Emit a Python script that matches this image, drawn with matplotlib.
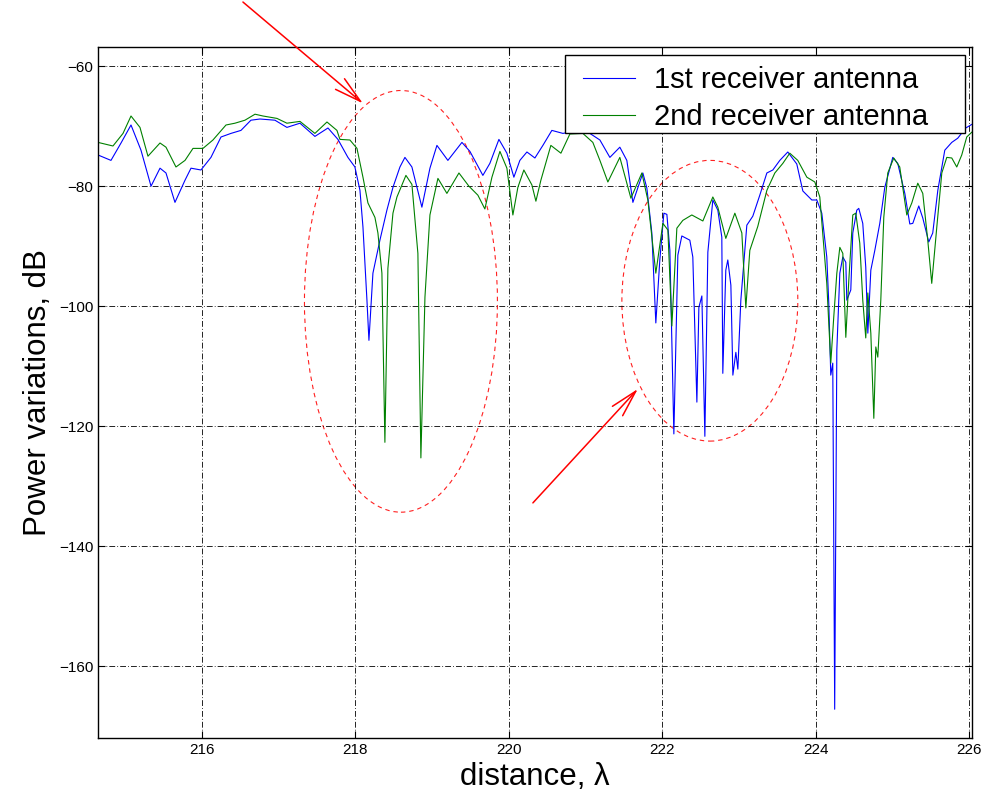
import matplotlib
matplotlib.use('Agg')
import matplotlib.pyplot as plt
from matplotlib.patches import Ellipse, Rectangle

plt.rcParams['font.family'] = ['Liberation Sans', 'DejaVu Sans']

# 1st receiver antenna (distance in wavelengths, power in dB)
dist_1 = [214.645, 214.814, 214.945, 215.075, 215.205, 215.336, 215.453, 215.531,
          215.648, 215.779, 215.857, 215.987, 216.117, 216.248, 216.378, 216.508,
          216.638, 216.756, 216.951, 217.107, 217.277, 217.472, 217.642, 217.772,
          217.902, 217.993, 218.059, 218.098, 218.150, 218.176, 218.228, 218.319,
          218.410, 218.489, 218.580, 218.645, 218.736, 218.866, 218.971, 219.062,
          219.205, 219.388, 219.492, 219.661, 219.752, 219.870, 219.974, 220.065,
          220.143, 220.235, 220.339, 220.443, 220.560, 220.704, 220.795, 220.925,
          221.055, 221.186, 221.316, 221.446, 221.537, 221.616, 221.746, 221.798,
          221.863, 221.915, 221.967, 222.020, 222.059, 222.098, 222.150, 222.202,
          222.254, 222.358, 222.397, 222.450, 222.476, 222.515, 222.554, 222.593,
          222.658, 222.723, 222.775, 222.788, 222.827, 222.853, 222.893, 222.919,
          222.958, 222.984, 223.023, 223.101, 223.179, 223.270, 223.362, 223.440,
          223.531, 223.635, 223.752, 223.831, 223.948, 224.013, 224.078, 224.143,
          224.169, 224.195, 224.221, 224.246, 224.274, 224.313, 224.352, 224.391,
          224.404, 224.456, 224.482, 224.534, 224.560, 224.612, 224.651, 224.678,
          224.717, 224.769, 224.834, 224.899, 225.003, 225.068, 225.160, 225.225,
          225.264, 225.342, 225.394, 225.472, 225.524, 225.590, 225.681, 225.772,
          225.850, 225.954, 226.033]
power_1 = [-74.8, -75.7, -72.8, -69.8, -74.0, -80.0, -77.0, -77.8,
           -82.7, -79.0, -77.0, -77.3, -75.2, -71.8, -71.2, -70.7,
           -69.0, -68.8, -69.0, -70.2, -69.5, -71.7, -70.3, -72.2,
           -75.2, -76.8, -80.7, -86.8, -99.0, -105.7, -94.5, -89.0,
           -84.0, -80.2, -76.8, -75.2, -76.8, -83.5, -77.0, -73.2,
           -75.7, -72.7, -74.2, -78.2, -76.2, -72.2, -74.5, -78.5,
           -75.7, -74.3, -75.3, -73.2, -70.7, -71.2, -71.0, -70.7,
           -71.2, -72.3, -75.2, -73.5, -75.7, -82.7, -77.8, -80.3,
           -87.8, -102.8, -92.3, -84.5, -84.7, -90.7, -121.3, -91.5,
           -88.3, -89.0, -91.8, -116.0, -100.2, -98.3, -121.7, -91.0,
           -82.3, -84.0, -88.5, -111.2, -94.0, -92.3, -96.5, -111.5,
           -107.7, -110.5, -99.0, -86.5, -85.0, -81.5, -77.8, -77.3,
           -75.7, -74.3, -76.3, -80.8, -82.3, -82.3, -84.5, -91.8,
           -99.5, -111.5, -109.5, -167.2, -107.3, -94.5, -91.8, -92.7,
           -99.0, -97.3, -87.8, -84.0, -83.7, -86.2, -93.5, -104.5,
           -94.0, -90.7, -86.2, -80.2, -75.2, -76.2, -81.2, -86.3,
           -86.2, -83.3, -85.3, -89.3, -87.8, -80.7, -74.0, -72.7,
           -72.0, -70.3, -69.7]

# 2nd receiver antenna
dist_2 = [214.645, 214.840, 214.971, 215.075, 215.192, 215.296, 215.453, 215.531,
          215.661, 215.779, 215.883, 216.013, 216.143, 216.313, 216.430, 216.560,
          216.691, 216.795, 216.977, 217.107, 217.277, 217.472, 217.629, 217.759,
          217.798, 217.928, 218.020, 218.098, 218.163, 218.254, 218.293, 218.345,
          218.384, 218.423, 218.489, 218.541, 218.658, 218.736, 218.814, 218.853,
          218.906, 218.971, 219.075, 219.192, 219.349, 219.479, 219.596, 219.687,
          219.779, 219.883, 219.974, 220.052, 220.117, 220.195, 220.300, 220.352,
          220.417, 220.547, 220.678, 220.795, 220.964, 221.094, 221.186, 221.290,
          221.446, 221.590, 221.733, 221.811, 221.915, 222.007, 222.072, 222.124,
          222.189, 222.267, 222.384, 222.528, 222.658, 222.723, 222.827, 222.945,
          223.036, 223.088, 223.140, 223.244, 223.362, 223.466, 223.570, 223.661,
          223.765, 223.883, 223.987, 224.052, 224.143, 224.195, 224.234, 224.274,
          224.313, 224.352, 224.391, 224.430, 224.482, 224.521, 224.573, 224.612,
          224.651, 224.678, 224.717, 224.756, 224.782, 224.808, 224.847, 224.886,
          224.938, 225.016, 225.094, 225.186, 225.251, 225.329, 225.394, 225.459,
          225.511, 225.577, 225.642, 225.707, 225.772, 225.837, 225.902, 225.967,
          226.033]
power_2 = [-72.7, -73.3, -71.2, -68.3, -70.2, -75.0, -72.8, -73.5,
           -76.8, -75.7, -73.7, -73.7, -72.3, -69.8, -69.5, -69.0,
           -68.0, -68.3, -68.7, -69.5, -69.2, -71.2, -69.3, -70.7,
           -72.2, -72.3, -73.7, -78.5, -82.8, -85.2, -87.8, -94.5,
           -122.7, -93.7, -84.5, -81.8, -78.2, -79.7, -91.2, -125.3,
           -98.5, -84.8, -78.7, -81.2, -77.8, -80.0, -81.5, -83.8,
           -78.5, -74.2, -77.0, -84.8, -80.2, -77.3, -79.8, -82.5,
           -79.0, -73.2, -74.5, -71.3, -71.2, -72.7, -75.7, -79.3,
           -75.2, -82.0, -77.8, -82.3, -94.5, -86.2, -87.3, -103.3,
           -87.0, -85.7, -84.8, -85.8, -81.8, -83.5, -88.7, -84.5,
           -87.8, -100.3, -90.7, -86.7, -80.7, -77.8, -76.2, -74.5,
           -75.7, -78.5, -79.3, -81.8, -96.2, -109.5, -101.8, -94.5,
           -90.2, -91.2, -105.2, -95.7, -84.8, -84.5, -89.5, -99.0,
           -105.3, -97.8, -104.5, -118.7, -106.8, -108.5, -99.0, -85.2,
           -77.8, -75.3, -76.8, -84.8, -82.8, -79.5, -81.2, -89.0,
           -96.2, -86.8, -77.8, -75.2, -75.3, -76.8, -74.8, -71.8,
           -71.0]

labels = ['1st receiver antenna', '2nd receiver antenna']

fig = plt.figure(figsize=(9.84, 7.97), dpi=100)
ax = fig.add_axes([0.0996, 0.074, 0.888, 0.867])

ax.plot(dist_1, power_1, color='#0000ff', lw=0.8, label=labels[0])
ax.plot(dist_2, power_2, color='#008000', lw=0.8, label=labels[1])

ax.set_xlim(214.645, 226.033)
ax.set_ylim(-172.0, -56.8)
ax.set_xticks(range(216, 227, 2))
ax.set_yticks(range(-160, -59, 20))

ax.grid(True, color='black', lw=0.6, linestyle=(0, (7, 2.5, 1, 2.5)))
ax.tick_params(direction='in', length=5, top=True, right=True, labelsize=11)
for s in ax.spines.values():
    s.set_linewidth(1.0)

ax.set_xlabel('distance, λ', fontsize=22.5, labelpad=4)
ax.set_ylabel('Power variations, dB', fontsize=22.5, labelpad=4)

# highlighted regions
ax.add_patch(Ellipse((218.593, -99.2), 2.515, 70.3, fill=False, ec='#ff2020',
                     lw=0.8, ls=(0, (4, 3.5))))
ax.add_patch(Ellipse((222.619, -99.1), 2.293, 46.8, fill=False, ec='#ff2020',
                     lw=0.8, ls=(0, (4, 3.5))))

arrow = dict(arrowstyle='->,head_length=0.97,head_width=0.25',
             mutation_scale=20, color='red', lw=1.1, shrinkA=0, shrinkB=0)
ax.annotate('', xy=(218.098, -66.2), xytext=(216.534, -49.3),
            arrowprops=arrow, annotation_clip=False)
ax.annotate('', xy=(221.681, -113.8), xytext=(220.313, -132.8),
            arrowprops=arrow, annotation_clip=False)

# MATLAB-style legend box (wide right padding)
ax.add_patch(Rectangle((0.5343, 0.8755), 0.4577, 0.1129, transform=ax.transAxes,
                       facecolor='white', edgecolor='black', lw=1.0, zorder=4.5))
leg = ax.legend(loc='upper left', bbox_to_anchor=(0.5549, 0.972), borderaxespad=0,
                fontsize=21, frameon=False, handlelength=1.8, handletextpad=0.65,
                borderpad=0, labelspacing=0.29)

fig.savefig('out.png', dpi=100)
